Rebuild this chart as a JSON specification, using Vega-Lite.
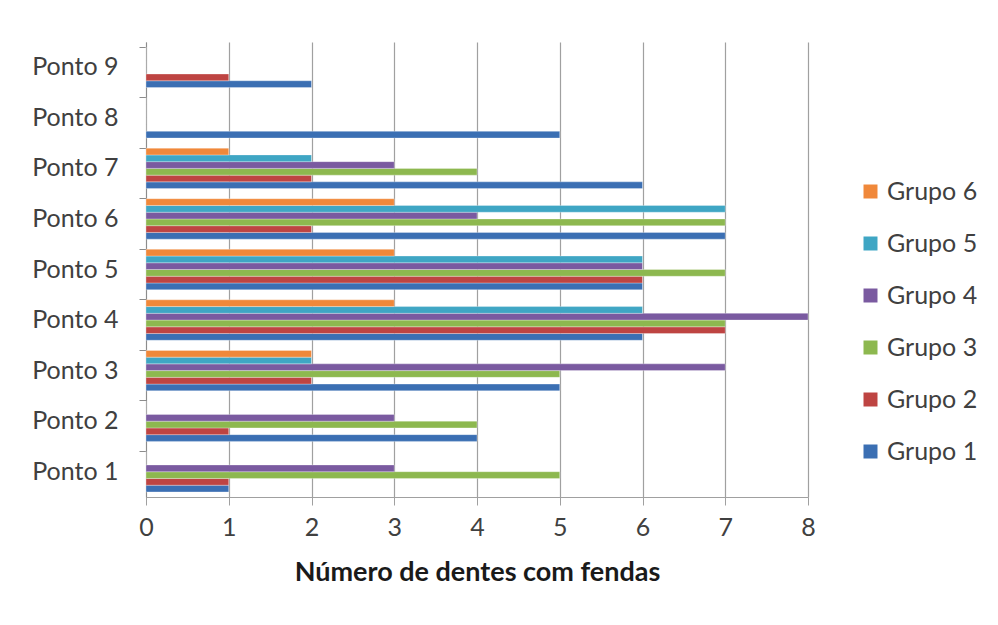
{
  "$schema": "https://vega.github.io/schema/vega-lite/v6.json",
  "width": 662,
  "height": 455,
  "autosize": {"type": "none"},
  "padding": {"left": 146, "top": 42, "right": 190, "bottom": 128},
  "background": "white",
  "config": {
    "view": {"stroke": null},
    "font": "Lato",
    "axis": {"labelFont": "Lato", "titleFont": "Lato"},
    "legend": {"labelFont": "Lato"}
  },
  "data": {
    "values": [
      {"ponto": "Ponto 1", "grupo": "Grupo 1", "n": 1},
      {"ponto": "Ponto 1", "grupo": "Grupo 2", "n": 1},
      {"ponto": "Ponto 1", "grupo": "Grupo 3", "n": 5},
      {"ponto": "Ponto 1", "grupo": "Grupo 4", "n": 3},
      {"ponto": "Ponto 1", "grupo": "Grupo 5", "n": 0},
      {"ponto": "Ponto 1", "grupo": "Grupo 6", "n": 0},
      {"ponto": "Ponto 2", "grupo": "Grupo 1", "n": 4},
      {"ponto": "Ponto 2", "grupo": "Grupo 2", "n": 1},
      {"ponto": "Ponto 2", "grupo": "Grupo 3", "n": 4},
      {"ponto": "Ponto 2", "grupo": "Grupo 4", "n": 3},
      {"ponto": "Ponto 2", "grupo": "Grupo 5", "n": 0},
      {"ponto": "Ponto 2", "grupo": "Grupo 6", "n": 0},
      {"ponto": "Ponto 3", "grupo": "Grupo 1", "n": 5},
      {"ponto": "Ponto 3", "grupo": "Grupo 2", "n": 2},
      {"ponto": "Ponto 3", "grupo": "Grupo 3", "n": 5},
      {"ponto": "Ponto 3", "grupo": "Grupo 4", "n": 7},
      {"ponto": "Ponto 3", "grupo": "Grupo 5", "n": 2},
      {"ponto": "Ponto 3", "grupo": "Grupo 6", "n": 2},
      {"ponto": "Ponto 4", "grupo": "Grupo 1", "n": 6},
      {"ponto": "Ponto 4", "grupo": "Grupo 2", "n": 7},
      {"ponto": "Ponto 4", "grupo": "Grupo 3", "n": 7},
      {"ponto": "Ponto 4", "grupo": "Grupo 4", "n": 8},
      {"ponto": "Ponto 4", "grupo": "Grupo 5", "n": 6},
      {"ponto": "Ponto 4", "grupo": "Grupo 6", "n": 3},
      {"ponto": "Ponto 5", "grupo": "Grupo 1", "n": 6},
      {"ponto": "Ponto 5", "grupo": "Grupo 2", "n": 6},
      {"ponto": "Ponto 5", "grupo": "Grupo 3", "n": 7},
      {"ponto": "Ponto 5", "grupo": "Grupo 4", "n": 6},
      {"ponto": "Ponto 5", "grupo": "Grupo 5", "n": 6},
      {"ponto": "Ponto 5", "grupo": "Grupo 6", "n": 3},
      {"ponto": "Ponto 6", "grupo": "Grupo 1", "n": 7},
      {"ponto": "Ponto 6", "grupo": "Grupo 2", "n": 2},
      {"ponto": "Ponto 6", "grupo": "Grupo 3", "n": 7},
      {"ponto": "Ponto 6", "grupo": "Grupo 4", "n": 4},
      {"ponto": "Ponto 6", "grupo": "Grupo 5", "n": 7},
      {"ponto": "Ponto 6", "grupo": "Grupo 6", "n": 3},
      {"ponto": "Ponto 7", "grupo": "Grupo 1", "n": 6},
      {"ponto": "Ponto 7", "grupo": "Grupo 2", "n": 2},
      {"ponto": "Ponto 7", "grupo": "Grupo 3", "n": 4},
      {"ponto": "Ponto 7", "grupo": "Grupo 4", "n": 3},
      {"ponto": "Ponto 7", "grupo": "Grupo 5", "n": 2},
      {"ponto": "Ponto 7", "grupo": "Grupo 6", "n": 1},
      {"ponto": "Ponto 8", "grupo": "Grupo 1", "n": 5},
      {"ponto": "Ponto 8", "grupo": "Grupo 2", "n": 0},
      {"ponto": "Ponto 8", "grupo": "Grupo 3", "n": 0},
      {"ponto": "Ponto 8", "grupo": "Grupo 4", "n": 0},
      {"ponto": "Ponto 8", "grupo": "Grupo 5", "n": 0},
      {"ponto": "Ponto 8", "grupo": "Grupo 6", "n": 0},
      {"ponto": "Ponto 9", "grupo": "Grupo 1", "n": 2},
      {"ponto": "Ponto 9", "grupo": "Grupo 2", "n": 1},
      {"ponto": "Ponto 9", "grupo": "Grupo 3", "n": 0},
      {"ponto": "Ponto 9", "grupo": "Grupo 4", "n": 0},
      {"ponto": "Ponto 9", "grupo": "Grupo 5", "n": 0},
      {"ponto": "Ponto 9", "grupo": "Grupo 6", "n": 0}
    ]
  },
  "mark": {"type": "bar", "stroke": "white", "strokeWidth": 0.5, "strokeOpacity": 0.6},
  "encoding": {
    "y": {
      "field": "ponto",
      "type": "nominal",
      "sort": "descending",
      "scale": {"paddingInner": 0.2, "paddingOuter": 0.1},
      "axis": {
        "title": null,
        "bandPosition": 0,
        "tickSize": 7,
        "tickColor": "#8c8c8c",
        "domainColor": "#8c8c8c",
        "labelFontSize": 25,
        "labelColor": "#404040",
        "labelPadding": 21,
        "grid": false
      }
    },
    "yOffset": {
      "field": "grupo",
      "type": "nominal",
      "sort": "descending",
      "scale": {"paddingInner": 0}
    },
    "x": {
      "field": "n",
      "type": "quantitative",
      "scale": {"domain": [0, 8], "nice": false},
      "axis": {
        "values": [0, 1, 2, 3, 4, 5, 6, 7, 8],
        "grid": true,
        "gridColor": "#a0a0a0",
        "gridWidth": 1.2,
        "domainColor": "#a0a0a0",
        "tickColor": "#a0a0a0",
        "tickSize": 8,
        "labelFlush": false,
        "labelFontSize": 25,
        "labelColor": "#404040",
        "labelPadding": 10,
        "title": "Número de dentes com fendas",
        "titleFontSize": 27,
        "titleFontWeight": "bold",
        "titleColor": "#1a1a1a",
        "titlePadding": 19
      }
    },
    "color": {
      "field": "grupo",
      "type": "nominal",
      "scale": {
        "domain": ["Grupo 6", "Grupo 5", "Grupo 4", "Grupo 3", "Grupo 2", "Grupo 1"],
        "range": ["#f0883a", "#3fa6c4", "#7a5aa0", "#8db84f", "#be4442", "#3b6fb3"]
      },
      "legend": {
        "title": null,
        "orient": "none",
        "legendX": 712,
        "legendY": 137,
        "symbolType": "square",
        "symbolSize": 196,
        "symbolStrokeWidth": 0,
        "labelFontSize": 25,
        "labelColor": "#404040",
        "labelOffset": 4,
        "rowPadding": 26
      }
    }
  }
}
